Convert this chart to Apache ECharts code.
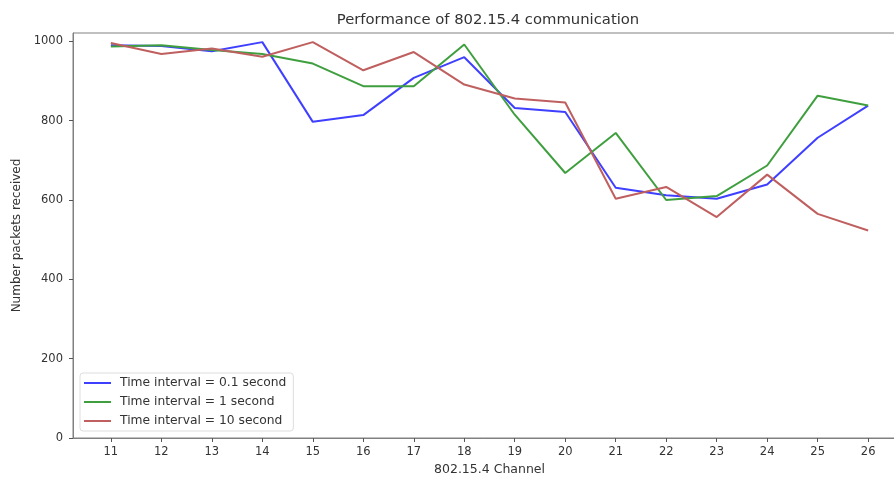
<!DOCTYPE html>
<html><head><meta charset="utf-8">
<script src="https://cdn.jsdelivr.net/npm/echarts@6/dist/echarts.min.js"></script>
<style>html,body{margin:0;padding:0;background:#fff}#c{width:894px;height:479px}</style>
</head><body><div id="c"></div>
<script>
const channels = [11,12,13,14,15,16,17,18,19,20,21,22,23,24,25,26];
const interval01 = [990,988,975,998,797,814,908,960,832,822,631,612,603,639,757,838];
const interval1  = [987,990,978,968,944,887,887,992,815,668,769,600,610,687,863,838];
const interval10 = [996,968,982,961,998,927,973,891,856,846,603,633,557,664,565,523];
const yTicks = [0,200,400,600,800,1000];
const seriesNames = ['Time interval = 0.1 second','Time interval = 1 second','Time interval = 10 second'];

const font = 'DejaVu Sans';
const chart = echarts.init(document.getElementById('c'));
function pairs(v){return channels.map((c,i)=>[c,v[i]]);}
const colors = ['#3f3fff','#3f9f3f','#bf5f5f'];
chart.setOption({
  animation:false,
  backgroundColor:'#fff',
  title:{text:'Performance of 802.15.4 communication',left:483,top:8,textAlign:'center',
    textStyle:{fontFamily:font,fontSize:14.8,fontWeight:'normal',color:'#333'}},
  grid:{left:73,width:833,top:33,height:405,outerBoundsMode:'none',containLabel:false,
    show:true,borderColor:'#808080',borderWidth:1,backgroundColor:'transparent'},
  legend:{left:80,top:373,orient:'vertical',itemWidth:27,itemHeight:2,itemGap:7,
    backgroundColor:'#fff',borderColor:'#dddddd',borderWidth:1,borderRadius:3,padding:[4,7,4,4],
    icon:'rect',
    textStyle:{fontFamily:font,fontSize:12.3,color:'#333',padding:[0,0,0,4]},
    data:seriesNames},
  xAxis:{type:'value',min:10.25,max:26.75,name:'802.15.4 Channel',nameLocation:'middle',nameGap:25,
    nameTextStyle:{fontFamily:font,fontSize:12.5,color:'#333'},
    axisLine:{show:true,lineStyle:{color:'#808080'}},
    axisTick:{show:true,customValues:channels,length:4,lineStyle:{color:'#555'}},
    axisLabel:{customValues:channels,fontFamily:font,fontSize:11.5,color:'#333',margin:8},
    splitLine:{show:false}},
  yAxis:{type:'value',min:0,max:1021,name:'Number packets received',nameLocation:'middle',nameGap:49,
    nameTextStyle:{fontFamily:font,fontSize:12,color:'#333'},
    axisLine:{show:true,lineStyle:{color:'#808080'}},
    axisTick:{show:true,customValues:yTicks,length:4,lineStyle:{color:'#555'}},
    axisLabel:{customValues:yTicks,formatter:v=>String(v),fontFamily:font,fontSize:11.5,color:'#333',margin:10},
    splitLine:{show:false}},
  series:[interval01,interval1,interval10].map((d,i)=>({
    name:seriesNames[i],type:'line',data:pairs(d),showSymbol:false,symbol:'none',
    lineStyle:{color:colors[i],width:2},itemStyle:{color:colors[i]}}))
});
</script></body></html>
